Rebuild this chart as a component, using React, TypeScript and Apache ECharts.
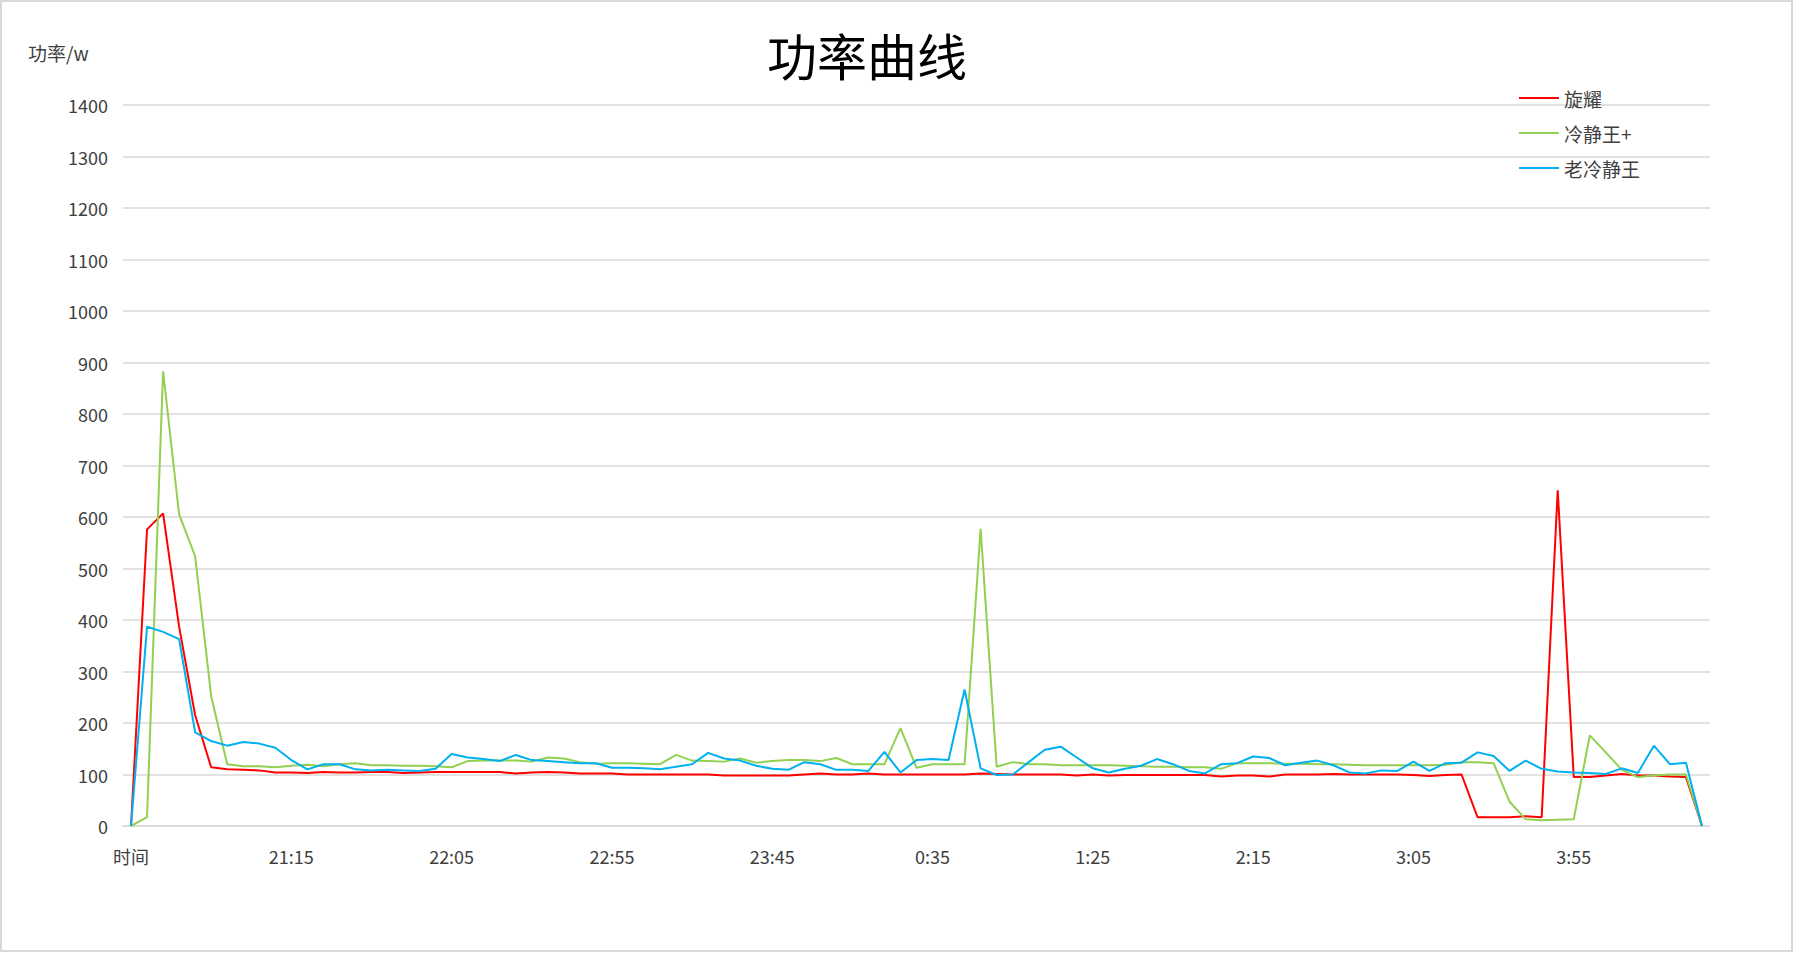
import { useEffect, useRef } from "react";
import * as echarts from "echarts";

const times = [
  "时间",
  "20:30", "20:35", "20:40", "20:45", "20:50", "20:55",
  "21:00", "21:05", "21:10", "21:15", "21:20", "21:25", "21:30", "21:35", "21:40", "21:45", "21:50", "21:55",
  "22:00", "22:05", "22:10", "22:15", "22:20", "22:25", "22:30", "22:35", "22:40", "22:45", "22:50", "22:55",
  "23:00", "23:05", "23:10", "23:15", "23:20", "23:25", "23:30", "23:35", "23:40", "23:45", "23:50", "23:55",
  "0:00", "0:05", "0:10", "0:15", "0:20", "0:25", "0:30", "0:35", "0:40", "0:45", "0:50", "0:55",
  "1:00", "1:05", "1:10", "1:15", "1:20", "1:25", "1:30", "1:35", "1:40", "1:45", "1:50", "1:55",
  "2:00", "2:05", "2:10", "2:15", "2:20", "2:25", "2:30", "2:35", "2:40", "2:45", "2:50", "2:55",
  "3:00", "3:05", "3:10", "3:15", "3:20", "3:25", "3:30", "3:35", "3:40", "3:45", "3:50", "3:55",
  "4:00", "4:05", "4:10", "4:15", "4:20", "4:25", "4:30", "4:35",
];

// 旋耀
const xuanyao = [
  0, 576, 607, 387, 215, 114, 110, 109, 108, 104,
  104, 103, 105, 104, 104, 105, 105, 103, 104, 105,
  105, 105, 105, 105, 102, 104, 105, 104, 102, 102,
  102, 100, 100, 100, 100, 100, 100, 98, 98, 98,
  98, 98, 100, 102, 100, 100, 102, 100, 100, 100,
  100, 100, 100, 102, 101, 100, 100, 100, 100, 98,
  100, 98, 99, 99, 99, 99, 99, 99, 96, 98,
  98, 96, 100, 100, 100, 101, 100, 100, 100, 100,
  99, 97, 99, 100, 17, 17, 17, 19, 17, 652,
  95, 95, 98, 101, 98, 98, 96, 95, 0,
];

// 冷静王+
const lengjingPlus = [
  0, 17, 883, 605, 524, 252, 120, 116, 116, 114,
  117, 119, 116, 120, 122, 118, 118, 117, 117, 116,
  114, 126, 127, 127, 127, 125, 133, 131, 124, 121,
  122, 122, 121, 120, 138, 127, 126, 125, 131, 123,
  126, 128, 128, 126, 132, 120, 120, 120, 190, 113,
  120, 120, 120, 577, 115, 124, 120, 120, 118, 118,
  118, 118, 117, 116, 115, 115, 114, 114, 111, 122,
  122, 122, 121, 121, 120, 120, 119, 118, 118, 118,
  118, 118, 119, 124, 124, 122, 47, 13, 11, 12,
  13, 176, 143, 109, 95, 98, 100, 100, 0,
];

// 老冷静王
const lengjingOld = [
  0, 387, 377, 363, 182, 165, 156, 163, 160, 152,
  128, 110, 120, 120, 110, 108, 109, 108, 107, 111,
  140, 133, 130, 126, 138, 128, 126, 124, 122, 122,
  113, 113, 112, 110, 115, 120, 142, 131, 127, 117,
  111, 109, 124, 120, 109, 109, 107, 144, 104, 128,
  130, 128, 265, 112, 99, 100, 124, 148, 154, 133,
  112, 104, 111, 117, 130, 120, 107, 102, 120, 122,
  135, 132, 118, 123, 127, 118, 104, 102, 108, 107,
  125, 107, 122, 123, 143, 136, 107, 127, 111, 106,
  104, 103, 101, 112, 103, 156, 120, 123, 0,
];

const FONT = '"Noto Sans CJK SC", "Microsoft YaHei", sans-serif';

export default function App() {
  const chartRef = useRef<HTMLDivElement>(null);

  useEffect(() => {
    document.body.style.margin = "0";
    if (!chartRef.current) return;
    const chart = echarts.init(chartRef.current, null, { renderer: "svg" });

    const lineSeries = (name: string, data: number[], color: string) => ({
      name,
      type: "line",
      data,
      showSymbol: false,
      symbol: "none",
      smooth: false,
      lineStyle: { color, width: 2 },
      itemStyle: { color },
    });

    chart.setOption({
      animation: false,
      backgroundColor: "#ffffff",
      textStyle: { fontFamily: FONT },
      title: {
        text: "功率曲线",
        left: 762,
        top: 24,
        textStyle: { fontSize: 50, fontWeight: "normal", color: "#000000", fontFamily: FONT },
      },
      graphic: [
        {
          type: "rect",
          shape: { x: 1, y: 1, width: 1791, height: 950 },
          style: { fill: "none", stroke: "#d9d9d9", lineWidth: 2 },
          silent: true,
        },
        {
          type: "text",
          left: 28,
          top: 43,
          style: { text: "功率/w", fontSize: 19, fill: "#404040", fontFamily: FONT },
        },
      ],
      legend: {
        orient: "vertical",
        left: 1514,
        top: 82,
        icon: "rect",
        itemWidth: 40,
        itemHeight: 2,
        itemGap: 13,
        textStyle: { fontSize: 19, color: "#404040", lineHeight: 22, fontFamily: FONT },
        data: ["旋耀", "冷静王+", "老冷静王"],
      },
      grid: { left: 123, right: 84, top: 105, bottom: 127, containLabel: false },
      xAxis: {
        type: "category",
        data: times,
        boundaryGap: true,
        axisLine: { lineStyle: { color: "#d9d9d9", width: 1.5 } },
        axisTick: { show: false },
        axisLabel: {
          interval: 9,
          margin: 21,
          fontSize: 18,
          color: "#404040",
          fontFamily: FONT,
        },
        splitLine: { show: false },
      },
      yAxis: {
        type: "value",
        min: 0,
        max: 1400,
        interval: 100,
        axisLine: { show: false },
        axisTick: { show: false },
        axisLabel: {
          fontSize: 18,
          color: "#404040",
          margin: 15,
          fontFamily: FONT,
          formatter: (v: number) => String(v),
        },
        splitLine: { lineStyle: { color: "#d9d9d9", width: 1.5 } },
      },
      series: [
        lineSeries("旋耀", xuanyao, "#ff0000"),
        lineSeries("冷静王+", lengjingPlus, "#92d050"),
        lineSeries("老冷静王", lengjingOld, "#00b0f0"),
      ],
    });

    return () => chart.dispose();
  }, []);

  return <div ref={chartRef} style={{ width: 1794, height: 953 }} />;
}
